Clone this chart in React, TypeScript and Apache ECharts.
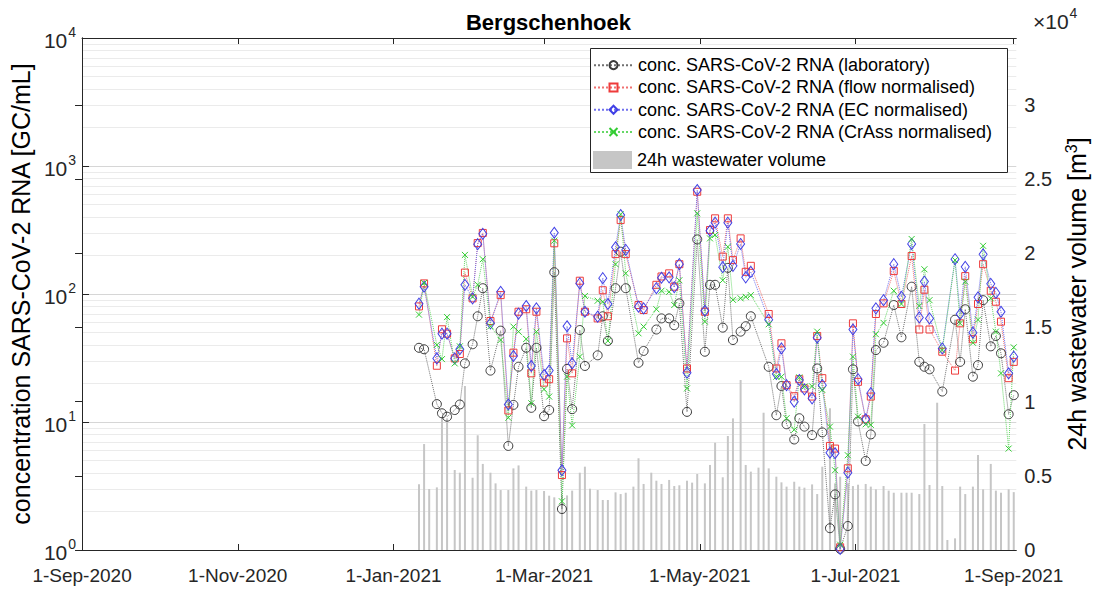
import React, { useEffect, useRef } from 'react';
import * as echarts from 'echarts';

// ---------- data ----------
const sampleDates = [
  '2021-01-11','2021-01-13','2021-01-15','2021-01-18','2021-01-20','2021-01-22','2021-01-25','2021-01-27','2021-01-29',
  '2021-02-01','2021-02-03','2021-02-05','2021-02-08','2021-02-10','2021-02-12','2021-02-15','2021-02-17','2021-02-19','2021-02-22','2021-02-24','2021-02-26',
  '2021-03-01','2021-03-03','2021-03-05','2021-03-08','2021-03-10','2021-03-12','2021-03-15','2021-03-17','2021-03-19','2021-03-22','2021-03-24','2021-03-26','2021-03-29','2021-03-31',
  '2021-04-02','2021-04-05','2021-04-07','2021-04-09','2021-04-12','2021-04-14','2021-04-16','2021-04-19','2021-04-21','2021-04-23','2021-04-26','2021-04-28','2021-04-30',
  '2021-05-03','2021-05-05','2021-05-07','2021-05-10','2021-05-12','2021-05-14','2021-05-17','2021-05-19','2021-05-21','2021-05-24','2021-05-26','2021-05-28','2021-05-31',
  '2021-06-02','2021-06-04','2021-06-07','2021-06-09','2021-06-11','2021-06-14','2021-06-16','2021-06-18','2021-06-21','2021-06-23','2021-06-25','2021-06-28','2021-06-30',
  '2021-07-02','2021-07-05','2021-07-07','2021-07-09','2021-07-12','2021-07-14','2021-07-16','2021-07-19','2021-07-21','2021-07-23','2021-07-26','2021-07-28','2021-07-30',
  '2021-08-02','2021-08-04','2021-08-06','2021-08-09','2021-08-11','2021-08-13','2021-08-16','2021-08-18','2021-08-20','2021-08-23','2021-08-25','2021-08-27','2021-08-30',
  '2021-09-01',
];

const volume = [
  4430, 7140, 4110, 4220, 8980, 8870, 5390, 5210, 11050,
  4870, 7730, 5800, 5210, 4490, 4040, 4040, 5500, 5700, 4270, 4000, 4040,
  3975, 3660, 3550, 3700, 3680, 4000, 5210, 5615, 4130, 4040, 3370, 3370, 3885, 3770,
  3860, 4270, 6180, 4450, 5210, 4670, 4450, 4720, 4310, 4360, 4670, 4540, 5120,
  4490, 5730, 7230, 4900, 7680, 8870, 11455, 5730, 5280, 5550, 9250, 5500, 4940,
  4560, 4270, 4600, 4270, 4200, 4420, 3770, 5615, 9550, 4490, 4940, 4500, 4310,
  4400, 4450, 4270, 4090, 4310, 4000, 3860, 3860, 3860, 3860, 3770, 8490, 4380,
  9925, 4310, 674, 785, 4270, 3770, 4270, 6400, 4090, 5800, 4000, 3860, 4090,
  3900,
];

const labConc = [
  38, 37, null, 13.8, 11.7, 11, 12.4, 13.7, 28.7,
  40.5, 67, 111, 25.2, null, 51.7, 6.5, 13.6, 27, 38, 12.9, 38,
  11.1, 12.4, 148, 2.09, 26, 12.6, 52.3, 27.4, null, 33.2, 67, 43, 111, 214,
  111, null, 29, 35.9, null, 52.8, 64.5, 64.5, 57, 84.5, 12, null, 267,
  35.4, 118, 118, 54.6, 160, 43.7, 50.8, 56, 67, null, null, 27, 11.3,
  19.1, 9.6, 7.3, 10.7, 9.2, 7.9, 26.2, 8.3, 1.48, 2.72, 1.02, 1.54, 25.8,
  10.1, 4.96, 8.0, 36.5, 41.6, null, 82, 45.9, null, 114, 29.5, 27, 25.8,
  null, 17.3, null, 63, 29.5, 76, 22.6, 27.8, 89.5, 39, 47, 34.4, 11.5,
  16.2,
];

const flowConc = [
  80, 121, null, 27.5, 53, 49, 31.4, 34, 147,
  92.5, 250, 300, 61.5, null, 98, 12.3, 34.8, 72.7, 76, 24, 72.7,
  20.3, 21.6, 249, 3.85, 45, 24, 127, 72.7, null, 64.5, 107, 67, 205, 378,
  205, null, 82, 75, null, 118, 137, 145, 114, 171, 26.2, null, 629,
  72.7, 316, 390, 196, 390, 184, 272, 149, 166, null, null, 69.8, 26.2,
  41.2, 19.4, 15.9, 21.6, 18.3, 15.8, 47, 22, 6.5, 6.2, 1.05, 4.35, 59,
  20.6, 10.5, 15.8, 69.8, 84.5, null, 151, 83.5, null, 198, 52.8, 108, 52.8,
  null, 35.4, null, 25.2, 59, 138, 44.3, 83.5, 171, 106, 87, 60.8, 22,
  29.5,
];

const ecConc = [
  84, 114, null, 31.4, 49, 49, 31.4, 37, 118,
  92.5, 245, 295, 59, null, 104, 13.7, 32.8, 70.3, 80.6, 27.4, 77.3,
  23.3, 25.2, 301, 4.2, 56, 28.7, 121, 72.7, null, 66.5, 133, 83.5, 232, 414,
  221, null, 79.6, 77.3, null, 111, 134, 135, 113, 171, 24.3, null, 649,
  74, 312, 361, 162, 361, 166, 246, 135, 149, null, null, 63, 23.7,
  37.6, 19.4, 14.4, 21.3, 18, 15.3, 45.6, 19.4, 5.75, 5.7, 1.02, 4.02, 52.8,
  21.6, 10.5, 16.8, 77.3, 89.5, null, 171, 95, null, 246, 65.6, 125, 64.5,
  null, 37.6, null, 187, 69.8, 163, 49.9, 94.2, 204, 120, 102, 72.7, 24,
  32.4,
];

const crassConc = [
  69, 122, null, 40, 31, 66, 28.7, 39, 202,
  95, 118, 187, 56, null, 43.7, 10.8, 55.6, 50.8, 44.5, 14, 50.8,
  18, 15.8, 261, 2.4, 22.6, 9.4, 32.4, 96.5, null, 88.6, 87, 43, 171, 420,
  145, null, 49.3, 55.6, null, 76, 106, 104, 82, 128, 18.3, null, 427,
  60.8, 272, 289, 128, 234, 90, 92.5, 95, 98, null, null, 58, 22.6,
  22.6, 10.7, 8.7, 22.3, 18.9, 19, 50.8, 17.8, 9.2, 4.2, 1.1, 5.5, 32.4,
  11, 9.6, 9.5, 48.5, 59.5, null, 106, 83.5, null, 269, 80.6, 156, 89.5,
  null, 36.5, null, 184, 59, 125, 41.6, 63, 238, 92.5, 50.8, 24, 6.2,
  38.3,
];

const seriesNames = [
  'conc. SARS-CoV-2 RNA (laboratory)',
  'conc. SARS-CoV-2 RNA (flow normalised)',
  'conc. SARS-CoV-2 RNA (EC normalised)',
  'conc. SARS-CoV-2 RNA (CrAss normalised)',
];
const volumeName = '24h wastewater volume';

const xStartDate = '2020-09-01';
const xEndDate = '2021-09-02';
const xTickDates = ['2020-09-01', '2020-11-01', '2021-01-01', '2021-03-01', '2021-05-01', '2021-07-01', '2021-09-01'];
const xTickLabels = ['1-Sep-2020', '1-Nov-2020', '1-Jan-2021', '1-Mar-2021', '1-May-2021', '1-Jul-2021', '1-Sep-2021'];
const volTicks = [0, 5000, 10000, 15000, 20000, 25000, 30000];
const volMax = 34500;
const concMin = 1;
const concMax = 10000;
const minorGridFactors = [2, 3, 4, 5, 6, 7, 8, 9];
const decades = [1, 10, 100, 1000];

// ---------- helpers ----------
const FONT = "'Liberation Sans', Arial, Helvetica, sans-serif";
const AX = '#262626';

const toDay = (s: string) => {
  const [y, m, d] = s.split('-').map(Number);
  return Math.round((Date.UTC(y, m - 1, d) - Date.UTC(2020, 8, 1)) / 86400000);
};

export default function App() {
  const ref = useRef<HTMLDivElement>(null);

  useEffect(() => {
    if (!ref.current) return;
    const chart = echarts.init(ref.current, undefined, { renderer: 'svg' });

    const days = sampleDates.map(toDay);
    const tickDays = xTickDates.map(toDay);
    const pts = (vals: (number | null)[]) =>
      days.map((d, i) => [d, vals[i]]).filter((p) => p[1] !== null);

    const minorGrid = decades.flatMap((d) => minorGridFactors.map((k) => ({ yAxis: k * d })));

    const lineSeries = (name: string, vals: (number | null)[], symbol: string, size: any, color: string, lineColor: string, extra: any = {}) => ({
      type: 'line',
      name,
      xAxisIndex: 0,
      yAxisIndex: 0,
      data: pts(vals),
      symbol,
      symbolSize: size,
      showSymbol: true,
      itemStyle: { color: 'rgba(0,0,0,0)', borderColor: color, borderWidth: 1 },
      lineStyle: { color: lineColor, width: 1, type: 'dotted' },
      emphasis: { disabled: true },
      silent: true,
      z: 3,
      ...extra,
    });

    const option: any = {
      animation: false,
      backgroundColor: '#ffffff',
      textStyle: { fontFamily: FONT },
      title: {
        text: 'Bergschenhoek',
        left: 'center',
        top: 6,
        textStyle: { fontSize: 22, fontWeight: 'bold', color: '#000', fontFamily: FONT },
      },
      grid: { left: 78, right: 80, top: 38, bottom: 39, containLabel: false },
      xAxis: [
        {
          type: 'value',
          position: 'bottom',
          min: toDay(xStartDate),
          max: toDay(xEndDate),
          axisLine: { show: true, lineStyle: { color: AX, width: 1 } },
          axisTick: { show: true, inside: true, length: 6, customValues: tickDays, lineStyle: { color: AX } },
          axisLabel: {
            customValues: tickDays,
            formatter: (v: number) => {
              const i = tickDays.indexOf(Math.round(v));
              return i >= 0 ? xTickLabels[i] : '';
            },
            fontSize: 19,
            color: AX,
            margin: 16,
            fontFamily: FONT,
          },
          splitLine: { show: false },
        },
        {
          type: 'value',
          position: 'top',
          min: toDay(xStartDate),
          max: toDay(xEndDate),
          axisLine: { show: true, lineStyle: { color: AX, width: 1 } },
          axisTick: { show: true, inside: true, length: 6, customValues: tickDays, lineStyle: { color: AX } },
          axisLabel: { show: false },
          splitLine: { show: false },
        },
      ],
      yAxis: [
        {
          type: 'log',
          logBase: 10,
          min: concMin,
          max: concMax,
          position: 'left',
          name: 'concentration SARS-CoV-2 RNA [GC/mL]',
          nameLocation: 'middle',
          nameGap: 31,
          nameTextStyle: { fontSize: 25, color: '#000', fontFamily: FONT },
          axisLine: { show: true, lineStyle: { color: AX, width: 1 } },
          axisTick: { show: true, inside: true, length: 7, lineStyle: { color: AX } },
          axisLabel: {
            color: AX,
            margin: 6,
            formatter: (v: number) => `{b|10}{s|${Math.round(Math.log10(v))}}`,
            rich: {
              b: { fontSize: 21, fontFamily: FONT, color: AX, lineHeight: 26, verticalAlign: 'bottom' },
              s: { fontSize: 14, fontFamily: FONT, color: AX, lineHeight: 26, verticalAlign: 'top', padding: [0, 0, 9, 1] },
            },
          },
          splitLine: { show: true, lineStyle: { color: '#d6d6d6', width: 1 } },
        },
        {
          type: 'value',
          min: 0,
          max: volMax,
          position: 'right',
          name: '24h wastewater volume [m{s|3}]',
          nameLocation: 'middle',
          nameGap: 25,
          nameRotate: 90,
          nameTextStyle: {
            fontSize: 25,
            color: '#000',
            fontFamily: FONT,
            rich: { s: { fontSize: 16, fontFamily: FONT, color: '#000', verticalAlign: 'top', padding: [0, 0, 11, 0] } },
          },
          axisLine: { show: true, lineStyle: { color: AX, width: 1 } },
          axisTick: { show: true, inside: true, length: 7, customValues: volTicks, lineStyle: { color: AX } },
          axisLabel: {
            customValues: volTicks,
            formatter: (v: number) => String(v / 10000),
            fontSize: 20,
            color: AX,
            margin: 8,
            fontFamily: FONT,
          },
          splitLine: { show: false },
        },
      ],
      legend: [
        {
          orient: 'vertical',
          left: 593,
          top: 54,
          padding: 0,
          itemGap: 0,
          itemWidth: 39,
          itemHeight: 10,
          selectedMode: false,
          data: seriesNames,
          textStyle: { fontSize: 18, lineHeight: 22.3, color: '#000', fontFamily: FONT },
          z: 20,
        },
        {
          orient: 'vertical',
          left: 593,
          top: 149,
          padding: 0,
          itemGap: 0,
          itemWidth: 39,
          itemHeight: 18,
          selectedMode: false,
          data: [{ name: volumeName, icon: 'rect' }],
          textStyle: { fontSize: 18, lineHeight: 22, color: '#000', fontFamily: FONT },
          z: 20,
        },
      ],
      graphic: [
        {
          type: 'rect',
          x: 590.5,
          y: 48.5,
          shape: { x: 0, y: 0, width: 417, height: 124 },
          style: { fill: '#ffffff', stroke: AX, lineWidth: 1 },
          z: 15,
          silent: true,
        },
        {
          type: 'text',
          x: 1033,
          y: 6,
          style: {
            text: '{b|×10}{s|4}',
            fill: AX,
            fontFamily: FONT,
            rich: {
              b: { fontSize: 21, fontFamily: FONT, fill: AX, lineHeight: 26, verticalAlign: 'bottom' },
              s: { fontSize: 14, fontFamily: FONT, fill: AX, lineHeight: 26, verticalAlign: 'top', padding: [0, 0, 9, 1] },
            },
          },
          z: 15,
        },
      ],
      series: [
        {
          type: 'bar',
          name: volumeName,
          xAxisIndex: 0,
          yAxisIndex: 1,
          data: days.map((d, i) => [d, volume[i]]),
          barWidth: 2,
          itemStyle: { color: '#c6c6c6' },
          emphasis: { disabled: true },
          silent: true,
          z: 1,
        },
        lineSeries(seriesNames[0], labConc, 'circle', 9, '#3a3a3a', '#707070', {
          markLine: {
            silent: true,
            symbol: ['none', 'none'],
            label: { show: false },
            lineStyle: { color: '#ebebeb', width: 1, type: 'solid' },
            data: minorGrid,
            z: 0,
          },
        }),
        lineSeries(seriesNames[1], flowConc, 'rect', 7, '#ee3b3b', '#f07070'),
        lineSeries(seriesNames[2], ecConc, 'diamond', [8, 11], '#4040e6', '#7070ee'),
        lineSeries(seriesNames[3], crassConc, 'path://M0,0L10,10M10,0L0,10', 6, '#33cc33', '#66d866'),
      ],
    };

    chart.setOption(option);
    return () => chart.dispose();
  }, []);

  return (
    <div
      ref={ref}
      style={{ position: 'fixed', left: 0, top: 0, width: '1097px', height: '589px', background: '#fff' }}
    />
  );
}
